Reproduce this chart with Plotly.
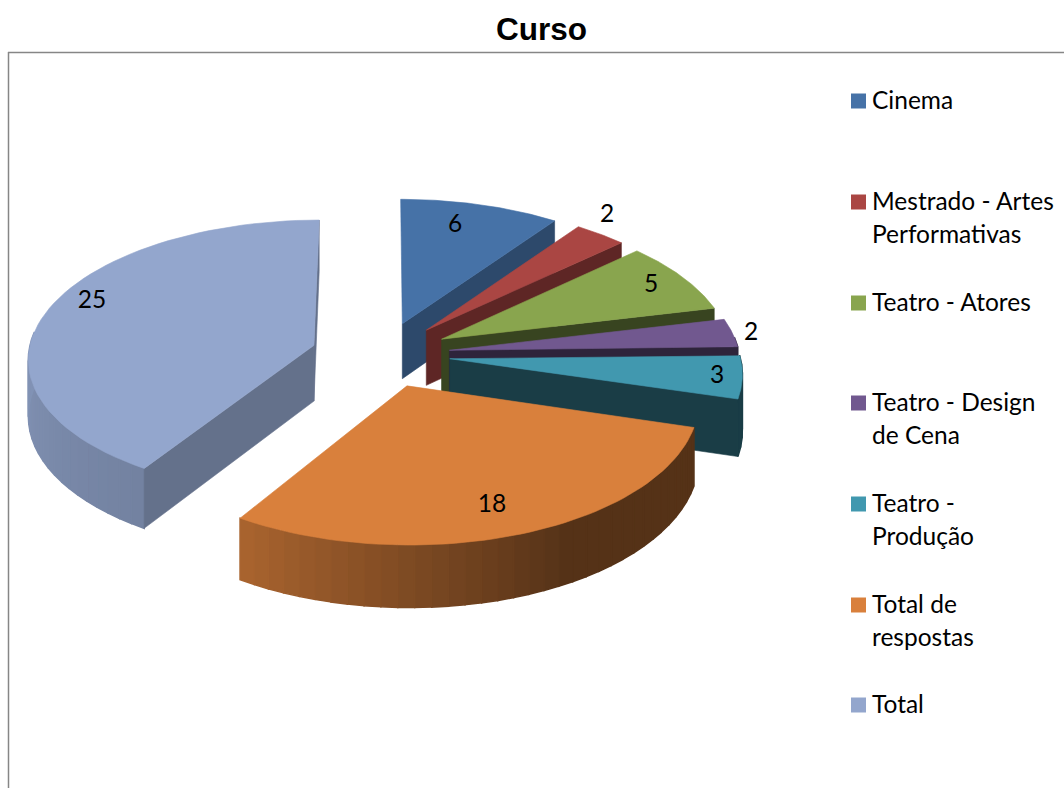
import math
import plotly.graph_objects as go

# ---- data ----
categories = ["Cinema", "Mestrado - Artes Performativas", "Teatro - Atores",
              "Teatro - Design de Cena", "Teatro - Produção", "Total de respostas", "Total"]
values = [6, 2, 5, 2, 3, 18, 25]
legend_lines = [["Cinema"], ["Mestrado - Artes", "Performativas"], ["Teatro - Atores"],
                ["Teatro - Design", "de Cena"], ["Teatro -", "Produção"],
                ["Total de", "respostas"], ["Total"]]

# ---- style ----
colors = [(70, 114, 167), (170, 70, 67), (137, 165, 78), (113, 88, 143),
          (65, 152, 175), (217, 128, 60), (147, 166, 205)]
wall_shade = [0.64, 0.55, 0.41, 0.41, 0.40, 0.40, 0.68]
slice_nudge = [0, 0, 0, 0, 0, 0.5, -3]
slice_sx = [1, 1, 1, 1, 1, 0.982, 0.985]
slice_sy = [1, 1, 1, 1, 1, 1, 0.98]
CX, CY, A, B, KX, KY, EXPLODE, DEPTH = 382, 354.5, 290, 140, 0.09, 0.085, 0.235, 56
label_xy = [(455, 226), (607, 216), (651, 286), (751, 334), (717, 377), (492, 506), (92, 302)]
legend_y = [103, 204, 305, 405, 506, 607, 707]
marker_y = [101, 202, 303, 403, 504, 605, 705]
LINE_H = 33
FONT = "Lato"
FS = 24.5


def project(i, theta_deg, r, mid_deg, depth=0.0):
    t, m = math.radians(theta_deg), math.radians(mid_deg)
    X = r * math.sin(t) * slice_sx[i] + EXPLODE * math.sin(m)
    Y = -r * math.cos(t) * slice_sy[i] - EXPLODE * math.cos(m)
    return (CX + slice_nudge[i] + A * X / (1 - KX * Y),
            CY + B * Y / (1 - KY * Y) + depth / (1 - KY * Y))


def rgb(c, f=1.0):
    return "rgb(%d,%d,%d)" % tuple(round(v * f) for v in c)


def interp(t, xs, ys):
    for i in range(len(xs) - 1):
        if t <= xs[i + 1]:
            return ys[i] + (ys[i + 1] - ys[i]) * (t - xs[i]) / (xs[i + 1] - xs[i])
    return ys[-1]


def rim_shade(t):
    return interp(t, [0, 150, 212, 270, 360], [0.39, 0.39, 0.78, 0.88, 0.9])


fig = go.Figure()


def poly(points, color, width=0.6):
    xs = [p[0] for p in points] + [points[0][0]]
    ys = [p[1] for p in points] + [points[0][1]]
    fig.add_trace(go.Scatter(x=xs, y=ys, mode="lines", fill="toself", fillcolor=color,
                             line=dict(color=color, width=width), hoverinfo="skip", showlegend=False))


total = sum(values)
start = 0.0
for i, v in enumerate(values):
    sweep = v / total * 360
    end = start + sweep
    mid = (start + end) / 2
    col = colors[i]
    # outer wall strips, front part only
    n = max(2, int(sweep / 3))
    angs = [start + sweep * j / n for j in range(n + 1)]
    for a0, a1 in zip(angs[:-1], angs[1:]):
        am = (a0 + a1) / 2
        if 85 < am < 275:
            f = wall_shade[i] if i < 5 else rim_shade(am)
            poly([project(i, a0, 1, mid), project(i, a1, 1, mid),
                  project(i, a1, 1, mid, DEPTH), project(i, a0, 1, mid, DEPTH)], rgb(col, f), width=1.5)
    # radial walls that face the viewer
    for edge, visible in ((start, start > 180), (end, end < 180 or i == len(values) - 1)):
        if visible:
            poly([project(i, 0, 0, mid), project(i, edge, 1, mid),
                  project(i, edge, 1, mid, DEPTH), project(i, 0, 0, mid, DEPTH)], rgb(col, wall_shade[i]))
    # top face
    top = [project(i, 0, 0, mid)] + [project(i, start + sweep * j / 60, 1, mid) for j in range(61)]
    poly(top, rgb(col))
    start = end

# data labels
fig.add_trace(go.Scatter(x=[p[0] for p in label_xy], y=[p[1] for p in label_xy], mode="text",
                         text=[str(v) for v in values], textposition="middle center",
                         textfont=dict(family=FONT, size=FS, color="black"),
                         hoverinfo="skip", showlegend=False))

# legend
for i, lines in enumerate(legend_lines):
    fig.add_trace(go.Scatter(x=[858.5], y=[marker_y[i]], mode="markers",
                             marker=dict(symbol="square", size=15, color=rgb(colors[i]), line=dict(width=0)),
                             hoverinfo="skip", showlegend=False))
    fig.add_trace(go.Scatter(x=[872] * len(lines), y=[legend_y[i] + k * LINE_H for k in range(len(lines))],
                             mode="text", text=lines, textposition="middle right",
                             textfont=dict(family=FONT, size=FS, color="black"),
                             hoverinfo="skip", showlegend=False))

fig.update_layout(
    width=1064, height=788, margin=dict(l=0, r=0, t=0, b=0),
    paper_bgcolor="white", plot_bgcolor="white", showlegend=False,
    xaxis=dict(range=[0, 1064], visible=False, fixedrange=True),
    yaxis=dict(range=[788, 0], visible=False, fixedrange=True),
    annotations=[dict(text="<b>Curso</b>", x=541.5, y=29, xref="x", yref="y", showarrow=False,
                      font=dict(family="Liberation Sans", size=31.5, color="black"))],
    shapes=[dict(type="line", xref="x", yref="y", x0=8, y0=52.5, x1=1064, y1=52.5,
                 line=dict(color="#868686", width=1.5)),
            dict(type="line", xref="x", yref="y", x0=8.5, y0=52, x1=8.5, y1=788,
                 line=dict(color="#868686", width=1.5))],
)
fig.write_html("out.html", config=dict(displayModeBar=False),
               post_script="document.body.style.margin='0';document.body.style.overflow='hidden';")
